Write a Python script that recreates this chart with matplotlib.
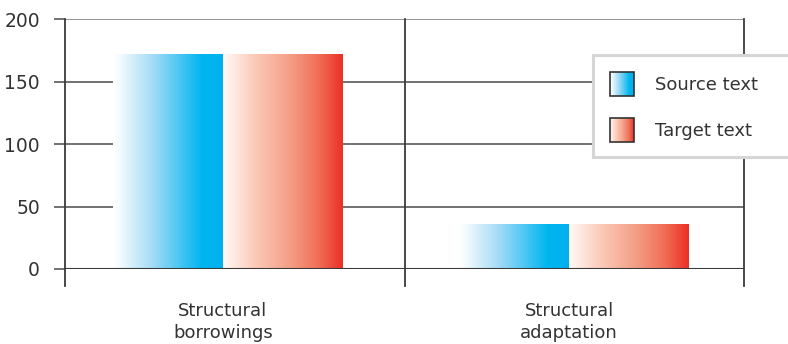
import numpy as np
import matplotlib
matplotlib.use("Agg")
import matplotlib.pyplot as plt
from matplotlib.colors import LinearSegmentedColormap
from matplotlib.patches import Rectangle, Patch
from matplotlib.legend_handler import HandlerBase

categories = ["Structural\nborrowings", "Structural\nadaptation"]
series_names = ["Source text", "Target text"]
source_values = [172, 36]
target_values = [172, 36]
y_ticks = [0, 50, 100, 150, 200]

text_color = "#333333"
grid_color = "#666666"
axis_color = "#3a3a3a"

blue_cmap = LinearSegmentedColormap.from_list(
    "blue_grad", [(0.0, "#ffffff"), (0.06, "#f3fbfe"), (0.35, "#a6dcf7"),
                  (0.8, "#00b6f0"), (1.0, "#00b0ee")])
red_cmap = LinearSegmentedColormap.from_list(
    "red_grad", [(0.0, "#fffaf7"), (0.25, "#fbcdbb"), (0.55, "#f4a088"),
                 (0.8, "#f06e55"), (1.0, "#ec2f25")])

plt.rcParams["font.family"] = ["DejaVu Sans"]
plt.rcParams["font.size"] = 13

fig = plt.figure(figsize=(7.88, 3.44), dpi=100)
ax = fig.add_axes([65 / 788, 75 / 344, 679 / 788, 250 / 344])

# group centres (slightly uneven against the separators, as in the original)
x = np.arange(len(categories)) * 1.02 + 0.465
src_w = 0.325
tgt_w = 0.353

# plain bars first, the gradient is painted over each one
bars_src = ax.bar(x - src_w, source_values, src_w, align="edge", color="none",
                  zorder=3)
bars_tgt = ax.bar(x, target_values, tgt_w, align="edge", color="none", zorder=3)

grad = np.linspace(0, 1, 256).reshape(1, -1)
for bars, cmap in [(bars_src, blue_cmap), (bars_tgt, red_cmap)]:
    for b in bars:
        x0, w, h = b.get_x(), b.get_width(), b.get_height()
        ax.imshow(grad, cmap=cmap, aspect="auto", extent=[x0, x0 + w, 0, h],
                  zorder=3, interpolation="nearest")

ax.set_xlim(0, 2)
ax.set_ylim(0, 200)

# horizontal grid
for v in y_ticks[1:-1]:
    ax.axhline(v, color=grid_color, lw=1.3, zorder=1)
ax.axhline(200, color="#8a8a8a", lw=1.3, zorder=1)
ax.axhline(0, color=axis_color, lw=1.5, zorder=4)

# category separators reaching below the axis
for xv in [0, 1, 2]:
    ax.plot([xv, xv], [-0.068, 1.0], transform=ax.get_xaxis_transform(),
            color=axis_color, lw=1.3, clip_on=False, zorder=2)

for s in ax.spines.values():
    s.set_visible(False)

ax.set_yticks(y_ticks)
ax.tick_params(axis="y", length=8, width=1.3, color=grid_color, pad=10,
               labelcolor=text_color, labelsize=13.5)
ax.set_xticks(x)
ax.set_xticklabels(categories, color=text_color, fontsize=13, linespacing=1.25)
ax.tick_params(axis="x", length=0, pad=24)


class GradientHandler(HandlerBase):
    def __init__(self, cmap):
        super().__init__()
        self.cmap = cmap

    def create_artists(self, legend, orig_handle, xdescent, ydescent,
                       width, height, fontsize, trans):
        n = 24
        out = []
        for k in range(n):
            out.append(Rectangle((-xdescent + k * width / n, -ydescent),
                                 width / n + 0.2, height,
                                 facecolor=self.cmap((k + 0.5) / n),
                                 edgecolor="none", transform=trans))
        out.append(Rectangle((-xdescent, -ydescent), width, height,
                             fill=False, edgecolor="#333333", lw=1.2,
                             transform=trans))
        return out


h_src, h_tgt = Patch(), Patch()

# legend box runs off the right edge of the figure in the original
frame = Rectangle((0.7776, 0.448), 0.32, 0.408, transform=ax.transAxes,
                  facecolor="white", edgecolor="#d6d6d6", lw=2.2,
                  clip_on=False, zorder=6)
ax.add_patch(frame)

leg = ax.legend([h_src, h_tgt], series_names,
                handler_map={h_src: GradientHandler(blue_cmap),
                             h_tgt: GradientHandler(red_cmap)},
                loc="upper left", bbox_to_anchor=(0.8027, 0.79),
                frameon=False, borderpad=0, borderaxespad=0,
                handlelength=1.3, handleheight=1.7, handletextpad=1.2,
                labelspacing=1.2, fontsize=13)
leg.set_zorder(7)
for t in leg.get_texts():
    t.set_color(text_color)

fig.savefig("out.png", dpi=100)
